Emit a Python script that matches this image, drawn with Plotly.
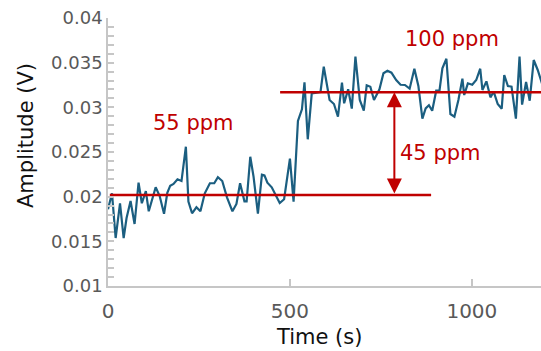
import plotly.graph_objects as go

# Signal data
time_s = [0, 11, 21, 33, 43, 51, 62, 73, 84, 93, 104, 112, 131, 142, 154, 163, 171, 180, 191, 202,
          214, 221, 231, 243, 254, 266, 280, 292, 302, 314, 327, 342, 353, 363, 375, 381, 391, 400,
          412, 423, 430, 438, 450, 461, 472, 484, 500, 510, 522, 533, 540, 549, 560, 584, 593, 609,
          621, 632, 643, 649, 660, 670, 680, 692, 703, 711, 721, 731, 746, 757, 768, 779, 792, 804,
          816, 829, 842, 853, 864, 873, 882, 891, 902, 911, 919, 930, 941, 952, 963, 974, 979, 989,
          1001, 1012, 1023, 1029, 1040, 1051, 1060, 1071, 1082, 1089, 1099, 1109, 1121, 1131, 1138,
          1149, 1159, 1170, 1181, 1200]
amplitude_v = [0.01859, 0.02038, 0.01537, 0.01926, 0.01537, 0.01761, 0.01952, 0.01694, 0.02156,
               0.01926, 0.02063, 0.01836, 0.02105, 0.02007, 0.01809, 0.02044, 0.02123, 0.02142,
               0.02194, 0.02175, 0.02559, 0.01944, 0.01814, 0.01881, 0.01836, 0.02038, 0.02150,
               0.02150, 0.02217, 0.02175, 0.01993, 0.01836, 0.01918, 0.02150, 0.01948, 0.01948,
               0.02447, 0.02224, 0.01809, 0.02246, 0.02239, 0.02156, 0.02105, 0.02019, 0.01929,
               0.01971, 0.02425, 0.01944, 0.02847, 0.02978, 0.03280, 0.02642, 0.03157, 0.03172,
               0.03455, 0.03082, 0.03037, 0.02895, 0.03276, 0.03045, 0.03202, 0.02985, 0.03567,
               0.03082, 0.02962, 0.03247, 0.03231, 0.03082, 0.03202, 0.03381, 0.03410, 0.03388,
               0.03306, 0.03253, 0.03250, 0.03209, 0.03432, 0.03239, 0.02873, 0.02989, 0.03023,
               0.02962, 0.03186, 0.03186, 0.03437, 0.03544, 0.02925, 0.02895, 0.03082, 0.03321,
               0.03138, 0.03269, 0.03253, 0.03306, 0.03432, 0.03194, 0.03291, 0.03112, 0.03175,
               0.03037, 0.02985, 0.03362, 0.03239, 0.03231, 0.02873, 0.03567, 0.03030, 0.03284,
               0.03074, 0.03530, 0.03418, 0.03172]

# Reference levels and annotation labels
level_low = 0.0202
level_high = 0.0317
low_line_x = [5, 888]
high_line_x = [473, 1195]
arrow_x = 787
label_low = "55 ppm"
label_high = "100 ppm"
label_diff = "45 ppm"

y_tickvals = [0.01, 0.015, 0.02, 0.025, 0.03, 0.035, 0.04]
y_ticktext = ["0.01", "0.015", "0.02", "0.025", "0.03", "0.035", "0.04"]
x_tickvals = [0, 500, 1000]
x_ticktext = ["0", "500", "1000"]

RED = "#c00000"
BLUE = "#1b5e80"
AXIS = "#c6c6c6"
FONT = "DejaVu Sans"

fig = go.Figure()
fig.add_trace(go.Scatter(x=time_s, y=amplitude_v, mode="lines",
                         line=dict(color=BLUE, width=2.2), hoverinfo="skip"))
fig.add_trace(go.Scatter(x=low_line_x, y=[level_low, level_low], mode="lines",
                         line=dict(color=RED, width=2.5), hoverinfo="skip"))
fig.add_trace(go.Scatter(x=high_line_x, y=[level_high, level_high], mode="lines",
                         line=dict(color=RED, width=2.5), hoverinfo="skip"))

fig.add_annotation(x=arrow_x, y=level_high, ax=arrow_x, ay=level_low,
                   xref="x", yref="y", axref="x", ayref="y", text="",
                   showarrow=True, arrowhead=2, startarrowhead=2, arrowside="end+start",
                   arrowsize=1.5, startarrowsize=1.5, arrowwidth=2, arrowcolor=RED)

fig.add_annotation(x=235, y=0.02825, xref="x", yref="y", text=label_low, showarrow=False,
                   font=dict(family=FONT, size=21, color=RED), xanchor="center", yanchor="middle")
fig.add_annotation(x=946, y=0.03765, xref="x", yref="y", text=label_high, showarrow=False,
                   font=dict(family=FONT, size=21, color=RED), xanchor="center", yanchor="middle")
fig.add_annotation(x=797, y=0.02489, xref="x", yref="y", text=label_diff, showarrow=False,
                   font=dict(family=FONT, size=21, color=RED), xanchor="left", yanchor="middle")

plot_w = 541 - 108
plot_h = 351 - 18 - 65
# Axis titles (placed in paper coordinates)
fig.add_annotation(xref="paper", yref="paper", x=(26 - 108) / plot_w, y=(351 - 65 - 136) / plot_h,
                   text="Amplitude (V)", showarrow=False, textangle=-90,
                   xanchor="center", yanchor="middle",
                   font=dict(family=FONT, size=21, color="#111111"))
fig.add_annotation(xref="paper", yref="paper", x=(319 - 108) / plot_w, y=(351 - 65 - 337) / plot_h,
                   text="Time (s)", showarrow=False, xanchor="center", yanchor="middle",
                   font=dict(family=FONT, size=21, color="#111111"))

fig.update_layout(
    width=541, height=351,
    margin=dict(l=108, r=0, t=18, b=65),
    plot_bgcolor="white", paper_bgcolor="white",
    showlegend=False,
    font=dict(family=FONT, size=18, color="#595959"),
)
fig.update_xaxes(range=[0, 1190], tickvals=x_tickvals, ticktext=x_ticktext,
                 showline=True, linecolor=AXIS, linewidth=1.5, ticks="inside", ticklen=7,
                 tickcolor=AXIS, tickwidth=1.5, showgrid=False, zeroline=False,
                 ticklabelstandoff=6,
                 tickfont=dict(family=FONT, size=20, color="#595959"))
fig.update_yaxes(range=[0.01, 0.04], tickvals=y_tickvals, ticktext=y_ticktext,
                 showline=True, linecolor=AXIS, linewidth=1.5, ticks="inside", ticklen=6,
                 tickcolor=AXIS, tickwidth=1.5, showgrid=False, zeroline=False,
                 minor=dict(dtick=0.001, tick0=0.01, ticks="inside", ticklen=6,
                            tickcolor=AXIS, tickwidth=1.5, showgrid=False),
                 tickfont=dict(family=FONT, size=18, color="#595959"))

fig.write_html("out.html")
